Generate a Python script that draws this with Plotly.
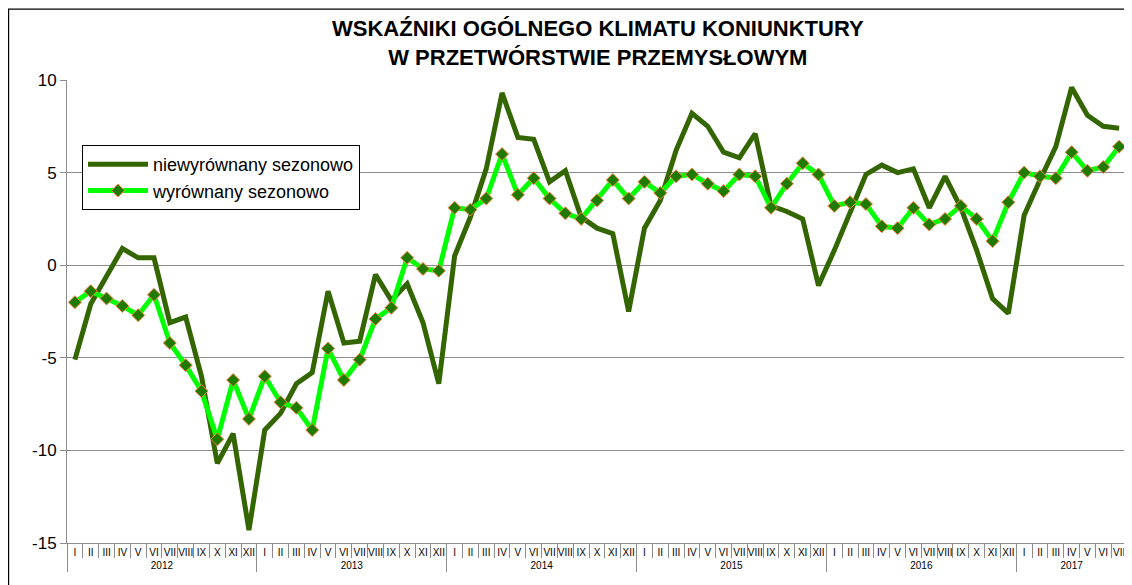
import plotly.graph_objects as go

years = ["2012", "2013", "2014", "2015", "2016", "2017"]
months = ["I", "II", "III", "IV", "V", "VI", "VII", "VIII", "IX", "X", "XI", "XII"]
n_last = 7  # months available in 2017

year_labels = []
month_labels = []
for y in years:
    cnt = n_last if y == "2017" else 12
    for m in months[:cnt]:
        year_labels.append(y)
        month_labels.append(m)

niewyrownany = [
    -5.1, -2.1, -0.6, 0.9, 0.4, 0.4, -3.1, -2.8, -6.0, -10.7, -9.1, -14.3,
    -8.9, -8.0, -6.4, -5.8, -1.4, -4.2, -4.1, -0.5, -1.9, -1.0, -3.1, -6.4,
    0.5, 2.6, 5.2, 9.3, 6.9, 6.8, 4.5, 5.1, 2.6, 2.0, 1.7, -2.5,
    2.0, 3.5, 6.2, 8.2, 7.5, 6.1, 5.8, 7.1, 3.2, 2.9, 2.5, -1.1,
    0.8, 2.8, 4.9, 5.4, 5.0, 5.2, 3.1, 4.8, 3.1, 0.8, -1.8, -2.6,
    2.7, 4.6, 6.4, 9.6, 8.1, 7.5, 7.4,
]
wyrownany = [
    -2.0, -1.4, -1.8, -2.2, -2.7, -1.6, -4.2, -5.4, -6.8, -9.4, -6.2, -8.3,
    -6.0, -7.4, -7.7, -8.9, -4.5, -6.2, -5.1, -2.9, -2.3, 0.4, -0.2, -0.3,
    3.1, 3.0, 3.6, 6.0, 3.8, 4.7, 3.6, 2.8, 2.5, 3.5, 4.6, 3.6,
    4.5, 3.9, 4.8, 4.9, 4.4, 4.0, 4.9, 4.8, 3.1, 4.4, 5.5, 4.9,
    3.2, 3.4, 3.3, 2.1, 2.0, 3.1, 2.2, 2.5, 3.2, 2.5, 1.3, 3.4,
    5.0, 4.8, 4.7, 6.1, 5.1, 5.3, 6.4,
]

title_lines = ["WSKAŹNIKI OGÓLNEGO KLIMATU KONIUNKTURY", "W PRZETWÓRSTWIE PRZEMYSŁOWYM"]

y_ticks = [-15, -10, -5, 0, 5, 10]
y_ticktext = ["-15", "-10", "-5", "0", "5", "10"]

FONT = "Arial, Liberation Sans, sans-serif"
GRAY = "#8c8c8c"

W, H = 1124, 577
L, R, T, B = 59, 5, 72, 42
PW, PH = W - L - R, H - T - B


def px_x(fx):
    return (fx - L) / PW


def px_y(fy):
    return (H - B - fy) / PH


fig = go.Figure()
fig.add_trace(go.Scatter(
    x=[year_labels, month_labels], y=niewyrownany,
    name="niewyrównany sezonowo", mode="lines",
    line=dict(color="#336600", width=5),
))
fig.add_trace(go.Scatter(
    x=[year_labels, month_labels], y=wyrownany,
    name="wyrównany sezonowo", mode="lines+markers",
    line=dict(color="#00FF00", width=5),
    marker=dict(symbol="diamond", size=10, color="#1F7A00",
                line=dict(color="#FF8040", width=1)),
))

n = len(month_labels)
ymin, ymax = -15, 10

annotations = [
    dict(text="<b>%s<br>%s</b>" % (title_lines[0], title_lines[1]),
         xref="paper", yref="paper",
         x=px_x(590), y=px_y(35), xanchor="center", yanchor="middle",
         showarrow=False, align="center",
         font=dict(size=22, family=FONT, color="black")),
]

fig.update_layout(
    width=W, height=H,
    margin=dict(l=L, r=R, t=T, b=B),
    paper_bgcolor="white", plot_bgcolor="white",
    font=dict(family=FONT, color="black"),
    annotations=annotations,
    showlegend=True,
    legend=dict(
        x=px_x(74), y=px_y(137), xanchor="left", yanchor="top",
        bordercolor="black", borderwidth=1, bgcolor="white",
        font=dict(size=18, family=FONT), itemwidth=60,
    ),
    xaxis=dict(
        type="multicategory", automargin=False, tickangle=0,
        range=[-0.5, n - 0.5], autorange=False,
        showline=True, linecolor=GRAY, linewidth=1,
        ticks="outside", ticklen=14, tickcolor=GRAY, tickson="boundaries",
        showdividers=True, dividercolor=GRAY, dividerwidth=1,
        tickfont=dict(size=10, family=FONT),
        showgrid=False, mirror=False,
    ),
    xaxis2=dict(
        overlaying="x", anchor="free", automargin=False,
        position=(0 - ymin) / (ymax - ymin),
        range=[-0.5, n - 0.5], tickmode="linear", tick0=-0.5, dtick=1,
        ticks="inside", ticklen=4, tickcolor=GRAY,
        showticklabels=False, showgrid=False, zeroline=False,
        showline=True, linecolor=GRAY, linewidth=1,
    ),
    yaxis=dict(
        range=[ymin, ymax], tickvals=y_ticks, ticktext=y_ticktext,
        automargin=False, anchor="x",
        showgrid=True, gridcolor=GRAY, gridwidth=1, zeroline=False,
        showline=True, linecolor=GRAY, linewidth=1, mirror=True,
        ticks="outside", ticklen=6, tickcolor=GRAY,
        tickfont=dict(size=17, family=FONT),
    ),
    shapes=[dict(
        type="rect", xref="paper", yref="paper",
        x0=px_x(0.6), x1=px_x(W + 20),
        y0=px_y(H + 20), y1=px_y(1.2),
        line=dict(color="black", width=1.2), fillcolor="rgba(0,0,0,0)",
        layer="below",
    )],
)

fig.write_html("out.html")
